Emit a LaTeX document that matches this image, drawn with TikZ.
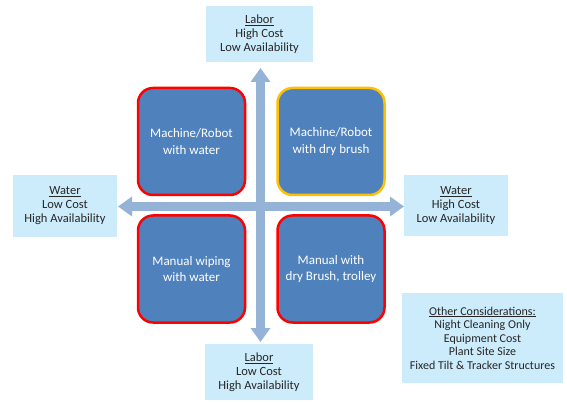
\documentclass[tikz,border=0pt]{standalone}
\usepackage{fontspec}
\setmainfont{Carlito}
\usetikzlibrary{arrows.meta}
\definecolor{qblue}{HTML}{4F81BD}
\definecolor{qred}{HTML}{FF0000}
\definecolor{qorange}{HTML}{FFC000}
\definecolor{axisblue}{HTML}{95B3D7}
\definecolor{lblblue}{HTML}{CCEBFB}
\definecolor{lbltext}{HTML}{262626}
\tikzset{
  quad/.style={draw=qred, line width=2.5pt, fill=qblue, rounded corners=15pt,
    minimum width=107pt, minimum height=107pt, text=white, align=center,
    font=\fontsize{13}{16.5}\selectfont, inner sep=0pt},
  lbl/.style={fill=lblblue, text=lbltext, align=center, font=\fontsize{12.5}{14}\selectfont, inner sep=0pt},
  axis/.style={draw=axisblue, line width=9pt,
    {Triangle[length=14pt 0 0, width=19pt 0 0]}-{Triangle[length=14pt 0 0, width=19pt 0 0]}}
}
\begin{document}
\begin{tikzpicture}[x=1pt,y=-1pt]
\useasboundingbox (0,0) rectangle (567,403);
\fill[white] (0,0) rectangle (567,403);
\coordinate (vt) at (260.5,68);
\coordinate (vb) at (260.5,342);
\coordinate (hl) at (118,206.5);
\coordinate (hr) at (404,206.5);
\draw[axis] (vt) -- (vb);
\draw[axis] (hl) -- (hr);
\node[quad] (tl) at (191.5,141.5) {Machine/Robot\\with water};
\node[quad, draw=qorange] (tr) at (331,141.5) {Machine/Robot\\with dry brush};
\node[quad] (bl) at (191.5,269) {Manual wiping\\with water};
\node[quad] (br) at (331,269) {Manual with\\dry Brush, trolley};
\node[lbl, minimum width=107pt, minimum height=56pt] (top) at (259.5,34) {\underline{Labor}\\High Cost\\Low Availability};
\node[lbl, minimum width=108pt, minimum height=56pt] (bot) at (259,372) {\underline{Labor}\\Low Cost\\High Availability};
\node[lbl, minimum width=104pt, minimum height=62pt] (left) at (65,206) {\underline{Water}\\Low Cost\\High Availability};
\node[lbl, minimum width=104pt, minimum height=61pt] (right) at (456,205.5) {\underline{Water}\\High Cost\\Low Availability};
\node[lbl, minimum width=161pt, minimum height=90pt, font=\fontsize{12}{13.5}\selectfont] (other) at (482.5,338) {\underline{Other Considerations:}\\Night Cleaning Only\\Equipment Cost\\Plant Site Size\\Fixed Tilt \& Tracker Structures};
\end{tikzpicture}
\end{document}
